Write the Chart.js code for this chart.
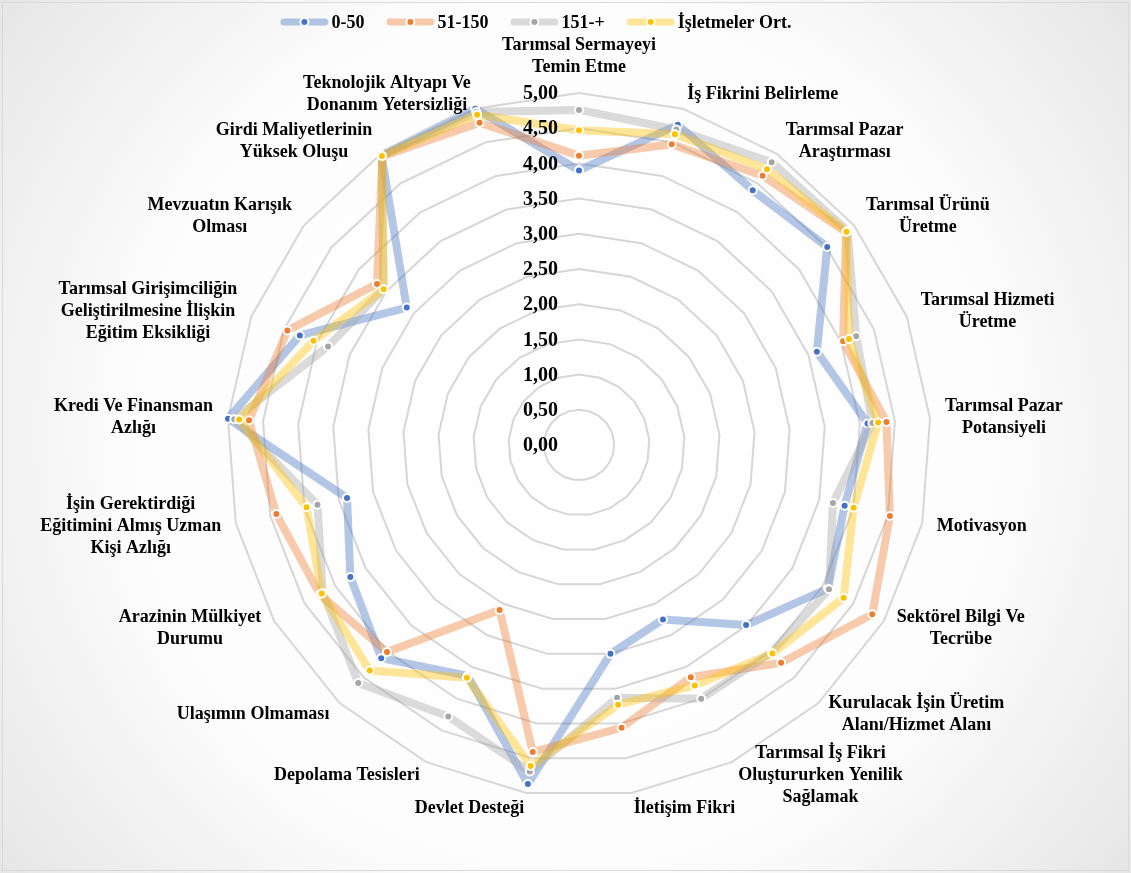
<!DOCTYPE html>
<html>
<head>
<meta charset="utf-8">
<script src="https://cdn.jsdelivr.net/npm/chart.js@4.4.1/dist/chart.umd.min.js"></script>
<style>
  html, body { margin: 0; padding: 0; background: #ffffff; }
  #wrap { width: 1131px; height: 873px; position: relative; }
  canvas { display: block; }
</style>
</head>
<body>
<div id="wrap"><canvas id="chart" width="1131" height="873"></canvas></div>
<script>
// Category labels, clockwise from the top (each entry = wrapped lines)
const categories = [
  ['Tarımsal Sermayeyi', 'Temin Etme'],
  ['İş Fikrini Belirleme'],
  ['Tarımsal Pazar', 'Araştırması'],
  ['Tarımsal Ürünü', 'Üretme'],
  ['Tarımsal Hizmeti', 'Üretme'],
  ['Tarımsal Pazar', 'Potansiyeli'],
  ['Motivasyon'],
  ['Sektörel Bilgi Ve', 'Tecrübe'],
  ['Kurulacak İşin Üretim', 'Alanı/Hizmet Alanı'],
  ['Tarımsal İş Fikri', 'Oluştururken Yenilik', 'Sağlamak'],
  ['İletişim Fikri'],
  ['Devlet Desteği'],
  ['Depolama Tesisleri'],
  ['Ulaşımın Olmaması'],
  ['Arazinin Mülkiyet', 'Durumu'],
  ['İşin Gerektirdiği', 'Eğitimini Almış Uzman', 'Kişi Azlığı'],
  ['Kredi Ve Finansman', 'Azlığı'],
  ['Tarımsal Girişimciliğin', 'Geliştirilmesine İlişkin', 'Eğitim Eksikliği'],
  ['Mevzuatın Karışık', 'Olması'],
  ['Girdi Maliyetlerinin', 'Yüksek Oluşu'],
  ['Teknolojik Altyapı Ve', 'Donanım Yetersizliği']
];

// Series names
const seriesNames = ['0-50', '51-150', '151-+', 'İşletmeler Ort.'];

// Mean scores per group
const group0to50 =   [3.90, 4.76, 4.38, 4.51, 3.63, 4.11, 3.87, 4.08, 3.49, 2.75, 3.00, 4.87, 3.64, 4.13, 3.75, 3.38, 5.00, 4.26, 3.13, 4.98, 5.00];
const group51to150 = [4.11, 4.47, 4.63, 4.85, 4.03, 4.38, 4.53, 4.81, 4.22, 3.66, 4.06, 4.41, 2.60, 4.01, 4.25, 4.41, 4.70, 4.45, 3.67, 4.96, 4.79];
const group151plus = [4.76, 4.69, 4.86, 4.88, 4.23, 4.18, 3.70, 4.10, 4.02, 4.00, 3.63, 4.69, 4.28, 4.61, 4.20, 3.81, 4.91, 3.83, 3.55, 4.97, 4.95];
const overallMean =  [4.47, 4.62, 4.74, 4.86, 4.12, 4.26, 4.00, 4.34, 4.04, 3.79, 3.73, 4.61, 3.67, 4.37, 4.22, 3.97, 4.84, 4.05, 3.55, 4.97, 4.91];

// Radial axis ticks
const tickValues = [0, 0.5, 1, 1.5, 2, 2.5, 3, 3.5, 4, 4.5, 5];

const seriesColors = ['#4472C4', '#ED7D31', '#A5A5A5', '#FFC000'];
const seriesValues = [group0to50, group51to150, group151plus, overallMean];

function withAlpha(hex, a) {
  const n = parseInt(hex.slice(1), 16);
  return `rgba(${(n >> 16) & 255}, ${(n >> 8) & 255}, ${n & 255}, ${a})`;
}

const SERIF = '"Liberation Serif", "Times New Roman", serif';
const fmtTick = v => v.toFixed(2).replace('.', ',');

// Soft radial backdrop and thin frame
const backdropPlugin = {
  id: 'backdrop',
  beforeDraw(chart) {
    const { ctx, width, height } = chart;
    ctx.save();
    const g = ctx.createRadialGradient(width / 2, height / 2, 0, width / 2, height / 2, Math.hypot(width, height) / 2);
    g.addColorStop(0, '#ffffff');
    g.addColorStop(0.6, '#fdfdfd');
    g.addColorStop(1, '#e6e6e6');
    ctx.fillStyle = g;
    ctx.fillRect(0, 0, width, height);
    ctx.strokeStyle = '#d9d9d9';
    ctx.lineWidth = 1;
    ctx.strokeRect(2.5, 2.5, width - 5, height - 5);
    ctx.restore();
  }
};

// Category labels, tick labels and legend
const textPlugin = {
  id: 'radarText',
  afterDatasetsDraw(chart) {
    const { ctx } = chart;
    const scale = chart.scales.r;
    ctx.save();

    // category labels around the web
    ctx.font = 'bold 18px ' + SERIF;
    ctx.fillStyle = '#000000';
    ctx.textAlign = 'center';
    ctx.textBaseline = 'middle';
    const lh = 22;
    categories.forEach((lines, i) => {
      const p = scale.getPointPosition(i, scale.drawingArea + 15);
      const theta = p.angle + Math.PI / 2;
      const s = Math.sin(theta), c = Math.cos(theta);
      const w = Math.max(...lines.map(t => ctx.measureText(t).width));
      const h = lines.length * lh;
      let cx = p.x;
      if (s > 1e-6) cx = p.x + w / 2;
      else if (s < -1e-6) cx = p.x - w / 2;
      let top = p.y - h / 2;
      if (c > 0.9999) top = p.y - h;
      else if (c < -0.9999) top = p.y;
      lines.forEach((t, k) => ctx.fillText(t, cx, top + lh * k + lh / 2));
    });

    // tick labels on the vertical axis
    ctx.font = 'bold 20px ' + SERIF;
    ctx.textAlign = 'right';
    tickValues.forEach(v => {
      const y = scale.yCenter - scale.getDistanceFromCenterForValue(v);
      ctx.fillText(fmtTick(v), scale.xCenter - 21, y + 1);
    });

    // legend row
    ctx.font = 'bold 18px ' + SERIF;
    ctx.textAlign = 'left';
    const lineW = 48, gapText = 3, gapItem = 22;
    const widths = seriesNames.map(n => lineW + gapText + ctx.measureText(n).width);
    const total = widths.reduce((a, b) => a + b, 0) + gapItem * (widths.length - 1);
    let x = 536 - total / 2;
    const y = 22;
    seriesNames.forEach((name, i) => {
      ctx.strokeStyle = withAlpha(seriesColors[i], 0.4);
      ctx.lineWidth = 7;
      ctx.lineCap = 'round';
      ctx.beginPath();
      ctx.moveTo(x + 3.5, y);
      ctx.lineTo(x + lineW - 3.5, y);
      ctx.stroke();
      ctx.beginPath();
      ctx.arc(x + lineW / 2, y, 4, 0, Math.PI * 2);
      ctx.fillStyle = seriesColors[i];
      ctx.fill();
      ctx.lineWidth = 2;
      ctx.strokeStyle = '#ffffff';
      ctx.stroke();
      ctx.fillStyle = '#000000';
      ctx.fillText(name, x + lineW + gapText, y + 1);
      x += widths[i] + gapItem;
    });

    ctx.restore();
  }
};

const datasets = seriesNames.map((name, i) => ({
  label: name,
  data: seriesValues[i],
  order: seriesNames.length - i,
  borderColor: withAlpha(seriesColors[i], 0.4),
  backgroundColor: 'transparent',
  borderWidth: 8,
  borderJoinStyle: 'round',
  fill: false,
  tension: 0,
  pointRadius: 4,
  pointHoverRadius: 4,
  pointBorderWidth: 2,
  pointBackgroundColor: seriesColors[i],
  pointBorderColor: '#ffffff'
}));

new Chart(document.getElementById('chart'), {
  type: 'radar',
  data: { labels: categories.map(l => l.join(' ')), datasets },
  options: {
    responsive: false,
    animation: false,
    devicePixelRatio: 1,
    plugins: {
      legend: { display: false },
      tooltip: { enabled: false }
    },
    scales: {
      r: {
        min: 0,
        max: 5,
        ticks: { display: false, stepSize: 0.5 },
        grid: { circular: false, color: '#d6d6d6', lineWidth: 2 },
        angleLines: { display: false },
        pointLabels: { display: false },
        afterFit(scale) {
          scale.xCenter = 579;
          scale.yCenter = 445;
          scale.drawingArea = 352;
        }
      }
    }
  },
  plugins: [backdropPlugin, textPlugin]
});
</script>
</body>
</html>
